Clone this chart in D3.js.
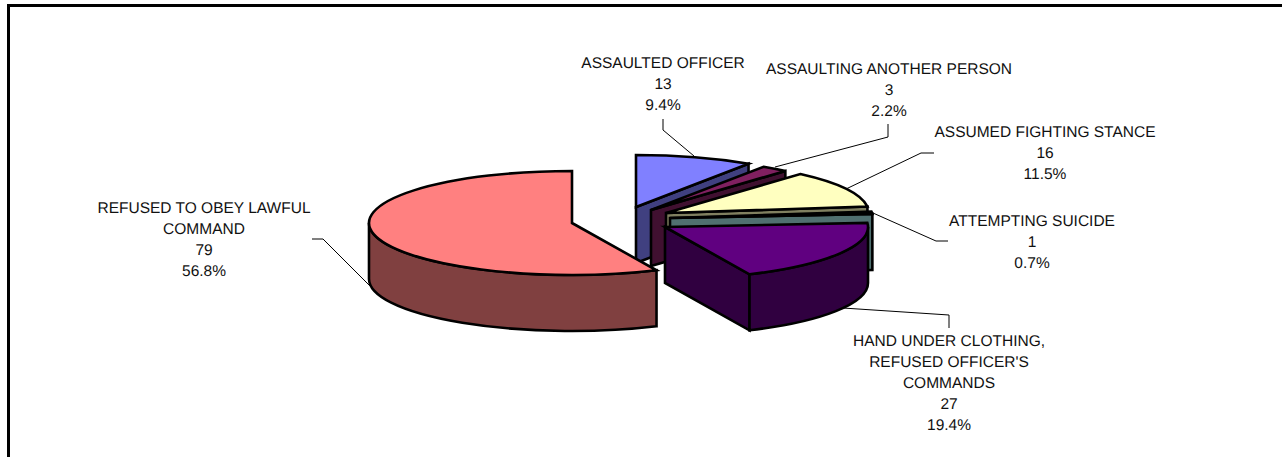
<!DOCTYPE html>
<meta charset="utf-8">
<style>
  body { margin: 0; background: #fff; }
  svg { display: block; }
  text { font-family: "Liberation Sans", Arial, sans-serif; font-size: 15.5px; fill: #111; text-rendering: geometricPrecision; }
</style>

<!-- Load d3.js -->
<script src="https://d3js.org/d3.v7.min.js"></script>

<div id="my_dataviz"></div>

<script>

// the data, clockwise from 12 o'clock
var categories = [
  ["ASSAULTED OFFICER"],
  ["ASSAULTING ANOTHER PERSON"],
  ["ASSUMED FIGHTING STANCE"],
  ["ATTEMPTING SUICIDE"],
  ["HAND UNDER CLOTHING,", "REFUSED OFFICER'S", "COMMANDS"],
  ["REFUSED TO OBEY LAWFUL", "COMMAND"]
];
var counts = [13, 3, 16, 1, 27, 79];

// colors of the top face and the side walls
var topColors = ["#8080ff", "#802060", "#ffffc0", "#a0e0e0", "#600080", "#ff8080"];
var sideColors = ["#404080", "#401030", "#808060", "#507070", "#300040", "#804040"];

// layout: where each exploded slice has its apex, its label and its leader line
var apex = [[636, 207], [651, 210], [666, 213], [670, 218], [665, 227], [572, 223]];
var labelPos = [[663, 68], [889, 74], [1045, 137], [1032, 226], [949, 346], [204, 213]];
var leaders = [
  [[663, 119], [663, 130], [694, 156]],
  [[888, 124], [888, 137], [775, 167]],
  [[934, 153], [921, 153], [846, 189]],
  [[948, 241], [936, 241], [873, 213]],
  [[949, 328], [949, 315], [843, 308]],
  [[312, 239], [323, 239], [371, 287]]
];

var width = 1282, height = 457;
var rx = 203, ry = 52, depth = 56;  // flattened pie
var lineHeight = 21;

var svg = d3.select("#my_dataviz")
  .append("svg")
  .attr("width", width)
  .attr("height", height);

// the frame only has a top and a left side in the picture
svg.append("path")
  .attr("d", "M8.5," + height + "V5.5H" + width)
  .attr("fill", "none")
  .attr("stroke", "#000")
  .attr("stroke-width", 3);

// Compute the position of each group on the pie:
var pie = d3.pie().sort(null);
var slices = pie(counts);
var total = d3.sum(counts);
var pct = d3.format(".1%");

// point on the rim, angle in radians clockwise from the top
function rim(c, angle, dy) {
  return [c[0] + rx * Math.sin(angle), c[1] - ry * Math.cos(angle) + (dy || 0)];
}

function topPath(c, a, b) {
  var p0 = rim(c, a), p1 = rim(c, b);
  var large = b - a > Math.PI ? 1 : 0;
  return "M" + c + "L" + p0 + "A" + rx + "," + ry + " 0 " + large + " 1 " + p1 + "Z";
}

// vertical wall under the edge from the apex to the rim
function facePath(c, angle) {
  var p = rim(c, angle), q = rim(c, angle, depth);
  return "M" + c + "L" + p + "L" + q + "L" + [c[0], c[1] + depth] + "Z";
}

// curved wall, only the part that faces the viewer
function wallPath(c, a, b) {
  var s = Math.max(a, Math.PI / 2), e = Math.min(b, Math.PI * 1.5);
  if (e <= s) return null;
  return "M" + rim(c, s) + "A" + rx + "," + ry + " 0 0 1 " + rim(c, e) +
    "L" + rim(c, e, depth) + "A" + rx + "," + ry + " 0 0 0 " + rim(c, s, depth) + "Z";
}

var g = svg.append("g")
  .attr("stroke", "#000")
  .attr("stroke-width", 2.6)
  .attr("stroke-linejoin", "miter");

slices.forEach(function(d, i) {
  var c = apex[i];
  var sides = [];
  // a cut edge only shows when it faces the front
  if (Math.sin(d.startAngle) < -1e-6) sides.push(facePath(c, d.startAngle));
  if (Math.sin(d.endAngle) > 1e-6) sides.push(facePath(c, d.endAngle));
  var wall = wallPath(c, d.startAngle, d.endAngle);
  if (wall) sides.push(wall);

  g.selectAll(null)
    .data(sides)
    .enter()
    .append("path")
    .attr("d", function(s) { return s; })
    .attr("fill", sideColors[i]);

  g.append("path")
    .attr("d", topPath(c, d.startAngle, d.endAngle))
    .attr("fill", topColors[i]);
});

// leader lines
var line = d3.line();
svg.selectAll(".leader")
  .data(leaders)
  .enter()
  .append("path")
  .attr("class", "leader")
  .attr("d", function(d) { return line(d); })
  .attr("fill", "none")
  .attr("stroke", "#000")
  .attr("stroke-width", 1);

// labels: category lines, count, percent
categories.forEach(function(name, i) {
  var lines = name.concat([String(counts[i]), pct(counts[i] / total)]);
  svg.selectAll(null)
    .data(lines)
    .enter()
    .append("text")
    .attr("x", labelPos[i][0])
    .attr("y", function(d, j) { return labelPos[i][1] + j * lineHeight; })
    .attr("text-anchor", "middle")
    .text(function(d) { return d; });
});

</script>
